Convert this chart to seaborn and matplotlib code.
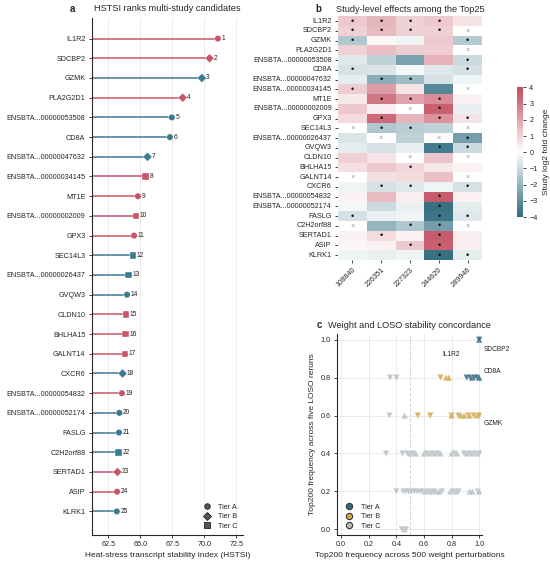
import numpy as np
import pandas as pd
import matplotlib
matplotlib.use("Agg")
import matplotlib.pyplot as plt
import seaborn as sns
from matplotlib.colors import LinearSegmentedColormap
from matplotlib.lines import Line2D

sns.set_style("ticks")
plt.rcParams['font.family'] = ['Liberation Sans', 'DejaVu Sans']

# ---- data: panel a (HSTSI lollipop) ----
genes = ["IL1R2", "SDCBP2", "GZMK", "PLA2G2D1", "ENSBTA...00000053508", "CD8A",
         "ENSBTA...00000047632", "ENSBTA...00000034145", "MT1E", "ENSBTA...00000002009",
         "GPX3", "SEC14L3", "ENSBTA...00000026437", "GVQW3", "CLDN10", "BHLHA15",
         "GALNT14", "CXCR6", "ENSBTA...00000054832", "ENSBTA...00000052174", "FASLG",
         "C2H2orf88", "SERTAD1", "ASIP", "KLRK1"]
hstsi = [71.05, 70.4, 69.8, 68.3, 67.45, 67.3, 65.55, 65.4, 64.8, 64.65, 64.5, 64.4,
         64.05, 63.95, 63.88, 63.83, 63.8, 63.6, 63.55, 63.35, 63.32, 63.3, 63.2, 63.17, 63.15]
direction = ["up", "up", "down", "up", "down", "down", "down", "up", "up", "up", "up", "down",
             "down", "down", "up", "up", "up", "down", "up", "down", "down", "down", "up", "up", "down"]
tier = ["A", "B", "B", "B", "A", "A", "B", "C", "A", "C", "A", "C", "C", "A", "C", "C", "C",
        "B", "A", "A", "A", "C", "B", "A", "A"]

# ---- data: panel b (study-level log2FC, NaN = not detected) ----
studies = ["108840", "226351", "227323", "244620", "289946"]
nan = np.nan
lfc = [
    [1.2, 1.6, 1.0, 1.2, 0.6],
    [1.0, 1.5, 1.0, 1.0, nan],
    [-1.5, 0.2, -0.3, 1.2, -1.4],
    [1.0, 1.4, 1.1, 1.1, nan],
    [-0.6, -1.2, -2.5, 1.7, -1.0],
    [-0.8, -0.7, -0.2, -0.6, -0.8],
    [-0.5, -2.2, -1.8, -0.8, -0.3],
    [1.1, 2.2, 0.6, -3.2, nan],
    [0.5, 3.0, 2.0, 2.5, 0.3],
    [1.2, 0.4, nan, 3.5, -0.4],
    [0.8, 3.3, 1.6, 2.4, 0.6],
    [nan, -1.5, -1.3, -1.2, nan],
    [-0.7, nan, -1.2, nan, -2.6],
    [-0.5, -0.8, -0.4, -3.5, -1.0],
    [1.0, 0.6, nan, 1.3, nan],
    [0.7, 1.2, 0.9, 0.5, 0.3],
    [nan, 0.7, 0.8, 1.4, nan],
    [-0.3, -0.8, -0.6, -0.3, -0.8],
    [0.3, 1.5, 0.4, 3.6, 0.3],
    [-0.2, -1.0, -0.4, -3.8, -0.5],
    [-0.8, -0.4, -0.3, -3.7, -0.6],
    [nan, -2.0, -1.5, -2.6, nan],
    [0.3, 0.8, 0.3, 3.6, 0.4],
    [0.2, 0.3, 1.2, 3.5, 0.4],
    [-0.3, -0.4, -0.3, -3.8, -0.5],
]
signif = [
    [1, 1, 1, 1, 0],
    [1, 1, 1, 1, 0],
    [1, 0, 0, 0, 1],
    [0, 0, 0, 0, 0],
    [0, 0, 0, 0, 1],
    [1, 0, 0, 0, 1],
    [0, 1, 1, 0, 0],
    [1, 0, 0, 0, 0],
    [0, 1, 1, 1, 0],
    [0, 0, 0, 1, 0],
    [0, 1, 0, 1, 1],
    [0, 1, 1, 0, 0],
    [0, 0, 0, 0, 1],
    [0, 0, 0, 1, 1],
    [0, 0, 0, 0, 0],
    [0, 0, 1, 0, 0],
    [0, 0, 0, 0, 0],
    [0, 1, 1, 0, 1],
    [0, 0, 0, 1, 0],
    [0, 0, 0, 1, 0],
    [1, 0, 0, 1, 1],
    [0, 0, 1, 1, 0],
    [0, 1, 0, 1, 0],
    [0, 0, 1, 1, 0],
    [0, 0, 0, 1, 1],
]

# ---- data: panel c (weight vs LOSO frequency) ----
c_weight = [1.0, 1.0,
            0.355, 0.40, 0.72, 0.76, 0.78, 0.91, 0.935, 0.95, 0.965, 0.985, 1.0,
            0.35, 0.46, 0.555, 0.645, 0.80, 0.80, 0.85, 0.87, 0.89, 0.92, 0.93, 0.96, 0.985, 1.0,
            0.325, 0.445, 0.48, 0.50, 0.52, 0.54, 0.60, 0.62, 0.64, 0.66, 0.68, 0.70, 0.72,
            0.80, 0.82, 0.84, 0.89, 0.91, 0.93, 0.95, 0.97, 0.99, 1.0,
            0.40, 0.45, 0.47, 0.49, 0.51, 0.53, 0.55, 0.57, 0.59, 0.61, 0.63, 0.65, 0.67,
            0.69, 0.71, 0.73, 0.79, 0.81, 0.83, 0.85, 0.93, 0.95, 0.99, 1.0,
            0.44, 0.46, 0.47]
c_loso = [1.0, 1.0,
          0.8, 0.8, 0.8, 0.8, 0.8, 0.8, 0.8, 0.8, 0.8, 0.8, 0.8,
          0.6, 0.6, 0.6, 0.6, 0.6, 0.6, 0.6, 0.6, 0.6, 0.6, 0.6, 0.6, 0.6, 0.6,
          0.4, 0.4, 0.4, 0.4, 0.4, 0.4, 0.4, 0.4, 0.4, 0.4, 0.4, 0.4, 0.4,
          0.4, 0.4, 0.4, 0.4, 0.4, 0.4, 0.4, 0.4, 0.4, 0.4,
          0.2, 0.2, 0.2, 0.2, 0.2, 0.2, 0.2, 0.2, 0.2, 0.2, 0.2, 0.2, 0.2,
          0.2, 0.2, 0.2, 0.2, 0.2, 0.2, 0.2, 0.2, 0.2, 0.2, 0.2,
          0.0, 0.0, 0.0]
c_dir = ["up", "down",
         "down", "down", "down", "up", "up", "down", "down", "up", "down", "down", "up",
         "down", "up", "down", "down", "down", "up", "down", "up", "up", "down", "up", "down", "up", "down",
         "down", "down", "down", "up", "down", "up", "up", "down", "up", "down", "up", "down", "up",
         "up", "down", "up", "down", "up", "down", "up", "down", "up", "down",
         "down", "down", "down", "down", "down", "down", "down", "down", "down", "up", "down", "up", "down",
         "up", "up", "down", "up", "down", "up", "down", "up", "up", "down", "up",
         "down", "up", "down"]
c_tier = ["A", "A",
          "C", "C", "B", "B", "B", "A", "A", "A", "A", "A", "A",
          "C", "C", "B", "B", "B", "B", "B", "B", "B", "B", "B", "B", "B", "B"] + ["C"] * 50
c_labels = ["IL1R2", "SDCBP2", "CD8A", "GZMK"]
c_label_x = [0.73, 1.035, 1.035, 1.035]
c_label_y = [0.92, 0.95, 0.83, 0.56]

red = "#c75468"
teal = "#3a7a8e"
tier_colors = {"A": "#2f6c80", "B": "#d4a84e", "C": "#b8c0c5"}

TICK = 5.2
LAB = 6.0
TITLE = 6.6

fig = plt.figure(figsize=(5.5, 5.67), dpi=100)

# ================= panel a =================
ax_a = fig.add_axes([0.167, 0.0564, 0.2745, 0.912])
df_a = pd.DataFrame({"gene": genes, "hstsi": hstsi, "direction": direction, "tier": tier})
xlo = 61.2
ax_a.hlines(range(len(genes)), xlo, df_a["hstsi"],
            colors=[red if d == "up" else teal for d in direction], lw=1.1, zorder=2)
sns.scatterplot(data=df_a, x="hstsi", y="gene", hue="direction", style="tier",
                palette={"up": red, "down": teal}, markers={"A": "o", "B": "D", "C": "s"},
                s=22, linewidth=0.3, edgecolor="white", legend=False, zorder=3, ax=ax_a)
for i, v in enumerate(hstsi):
    ax_a.text(v + 0.3, i, str(i + 1), fontsize=4.8, va="center", ha="left", color="#222222")
ax_a.set_xlim(xlo, 73.0)
ax_a.set_ylim(25.2, -1.05)
ax_a.set_xticks([62.5, 65.0, 67.5, 70.0, 72.5])
ax_a.set_xticklabels(["62.5", "65.0", "67.5", "70.0", "72.5"])
ax_a.xaxis.grid(True, color="#e8e8e8", lw=0.6)
ax_a.set_axisbelow(True)
ax_a.tick_params(labelsize=TICK, length=2.5, width=0.6, pad=2)
ax_a.set_xlabel("Heat-stress transcript stability index (HSTSI)", fontsize=LAB, labelpad=3)
ax_a.set_ylabel("")
sns.despine(ax=ax_a)
ax_a.set_title("HSTSI ranks multi-study candidates", fontsize=TITLE, pad=5)
leg_a = [Line2D([], [], marker=m, ls="", color="#555555", markeredgecolor="#222222",
                markersize=4, markeredgewidth=0.6, label=f"Tier {t}")
         for m, t in zip(["o", "D", "s"], ["A", "B", "C"])]
ax_a.legend(handles=leg_a, loc="lower right", frameon=False, fontsize=TICK,
            handletextpad=0.6, labelspacing=0.35, borderaxespad=0.3)
fig.text(0.131, 0.985, "a", fontsize=7, fontweight="bold", ha="center", va="center")

# ================= panel b =================
ax_b = fig.add_axes([0.6145, 0.5414, 0.2618, 0.43])
ax_cb = fig.add_axes([0.94, 0.617, 0.011, 0.229])
df_b = pd.DataFrame(lfc, index=genes, columns=studies)
cmap = LinearSegmentedColormap.from_list("tealred", ["#2c6a7e", "#ffffff", "#c24a5c"])
sns.heatmap(df_b, cmap=cmap, vmin=-4, vmax=4, center=0, ax=ax_b, cbar_ax=ax_cb,
            cbar_kws={"ticks": range(-4, 5)})
for i in range(len(genes)):
    for j in range(len(studies)):
        if np.isnan(lfc[i][j]):
            ax_b.text(j + 0.5, i + 0.5, "×", ha="center", va="center", fontsize=5.5, color="#999999")
        elif signif[i][j]:
            ax_b.text(j + 0.5, i + 0.5, "•", ha="center", va="center", fontsize=6.5, color="#111111")
ax_b.set_yticks(np.arange(len(genes)) + 0.5)
ax_b.set_yticklabels(genes, rotation=0)
ax_b.set_xticklabels(studies, rotation=45, ha="right", rotation_mode="anchor")
ax_b.tick_params(labelsize=TICK, length=2.5, width=0.6, pad=2)
ax_b.set_xlabel("")
ax_b.set_ylabel("")
ax_b.set_title("Study-level effects among the Top25", fontsize=TITLE, pad=3)
ax_cb.tick_params(labelsize=TICK, length=2.5, width=0.6, pad=2)
ax_cb.set_ylabel("Study log2 fold change", fontsize=LAB, labelpad=4)
for sp in ax_cb.spines.values():
    sp.set_visible(False)
fig.text(0.579, 0.985, "b", fontsize=7, fontweight="bold", ha="center", va="center")

# ================= panel c =================
ax_c = fig.add_axes([0.6127, 0.0564, 0.2636, 0.3545])
df_c = pd.DataFrame({"weight": c_weight, "loso": c_loso, "dir": c_dir, "tier": c_tier})
ax_c.axvline(0.5, color="#d5d5d5", lw=0.7, ls="--", zorder=0)
sns.scatterplot(data=df_c, x="weight", y="loso", hue="tier", style="dir",
                palette=tier_colors, markers={"up": "^", "down": "v"},
                hue_order=["C", "B", "A"], s=22, alpha=0.85, linewidth=0.2,
                edgecolor="white", legend=False, zorder=3, ax=ax_c)
for lab, lx, ly in zip(c_labels, c_label_x, c_label_y):
    ax_c.text(lx, ly, lab, fontsize=4.8, ha="left", va="center", color="#222222", clip_on=False)
ax_c.set_xlim(-0.03, 1.02)
ax_c.set_ylim(-0.03, 1.03)
ax_c.set_xticks([0.0, 0.2, 0.4, 0.6, 0.8, 1.0])
ax_c.set_yticks([0.0, 0.2, 0.4, 0.6, 0.8, 1.0])
ax_c.grid(True, color="#e8e8e8", lw=0.6)
ax_c.set_axisbelow(True)
ax_c.tick_params(labelsize=TICK, length=2.5, width=0.6, pad=2)
ax_c.set_xlabel("Top200 frequency across 500 weight perturbations", fontsize=LAB, labelpad=3)
ax_c.set_ylabel("Top200 frequency across five LOSO reruns", fontsize=LAB, labelpad=3)
sns.despine(ax=ax_c)
ax_c.set_title("Weight and LOSO stability concordance", fontsize=TITLE, pad=4)
leg_c = [Line2D([], [], marker="o", ls="", color=tier_colors[t], markeredgecolor="#333333",
                markersize=4.5, markeredgewidth=0.8, label=f"Tier {t}") for t in ["A", "B", "C"]]
ax_c.legend(handles=leg_c, loc="lower left", frameon=False, fontsize=TICK,
            handletextpad=0.6, labelspacing=0.35, borderaxespad=0.3)
fig.text(0.58, 0.427, "c", fontsize=7, fontweight="bold", ha="center", va="center")

for ax in [ax_a, ax_b, ax_c]:
    for sp in ax.spines.values():
        sp.set_linewidth(0.8)

fig.savefig("out.png", dpi=100)
